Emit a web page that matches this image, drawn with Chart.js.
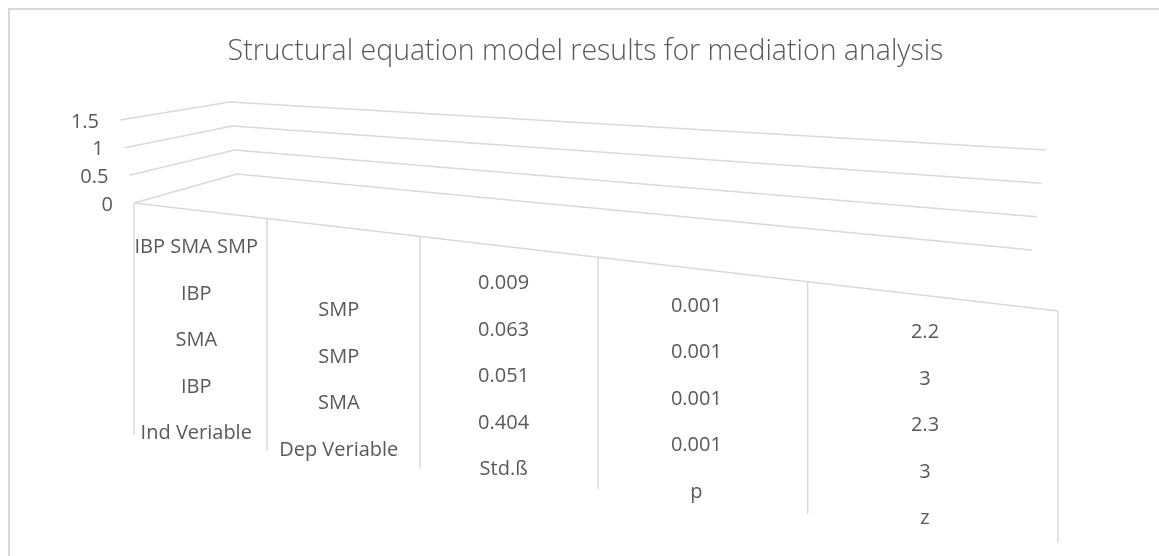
<!DOCTYPE html>
<html>
<head>
<meta charset="utf-8">
<script src="https://cdn.jsdelivr.net/npm/chart.js@4.4.1/dist/chart.umd.min.js"></script>
<style>
  html, body { margin: 0; padding: 0; background: #ffffff; overflow: hidden; }
  #wrap { width: 1159px; height: 556px; position: relative; }
</style>
</head>
<body>
<div id="wrap"><canvas id="c" width="1159" height="556"></canvas></div>
<script>
// ---------------- data ----------------
const chartTitle = "Structural equation model results for mediation analysis";
const columnHeaders = ["Ind Veriable", "Dep Veriable", "Std.ß", "p", "z"];
const indVariable = ["IBP SMA SMP", "IBP", "SMA", "IBP"];
const depVariable = ["", "SMP", "SMP", "SMA"];
const stdBeta = ["0.009", "0.063", "0.051", "0.404"];
const pValues = ["0.001", "0.001", "0.001", "0.001"];
const zValues = ["2.2", "3", "2.3", "3"];
const seriesValues = [0, 0, 0, 0, 0];
const yTicks = [0, 0.5, 1, 1.5];

// categories: each column of the table, header at the bottom
const categories = [indVariable, depVariable, stdBeta, pValues, zValues]
  .map((col, i) => [...col, columnHeaders[i]]);

// ---------------- styling / 3-D look ----------------
const TEXT = '#595959';
const LINE = '#d9d9d9';
const FONT = '"Open Sans", "Liberation Sans", sans-serif';
const look = {
  persp: -0.3274,     // perspective along the category (front) edge
  frontDrop: 108,     // vertical drop of the floor's front edge across the plot
  tickLen: 232,       // length of the category separators
  labelOffset: 37,    // first label line below the front edge
  lineGap: 46.5,      // label line spacing
  // back-wall geometry offsets (relative to chart area corners), at t=0 and t=1
  leftShift: -14,
  cornerX0: 103, cornerX1: 96, cornerY0: -29, cornerY1: -101,
  rightX0: -26, rightX1: -12, rightY0: 47, rightY1: -53
};

const perspectivePlugin = {
  id: 'perspective',
  beforeDraw(chart) {
    const ctx = chart.ctx;
    ctx.save();
    ctx.fillStyle = '#ffffff';
    ctx.fillRect(0, 0, chart.width, chart.height);
    ctx.strokeStyle = LINE;
    ctx.lineWidth = 2;
    ctx.beginPath();
    ctx.moveTo(9, chart.height);
    ctx.lineTo(9, 9);
    ctx.lineTo(chart.width, 9);
    ctx.stroke();
    ctx.restore();
  },
  beforeDatasetsDraw(chart) {
    const ctx = chart.ctx;
    const ca = chart.chartArea;
    const ys = chart.scales.y;
    const xs = chart.scales.x;
    const y0 = ys.getPixelForValue(ys.min);
    const span = y0 - ys.getPixelForValue(ys.max);
    const lerp = (a, b, t) => a + (b - a) * t;

    // map a flat category-scale pixel onto the slanted, perspective front edge
    const proj = (px) => {
      const u = (px - ca.left) / (ca.right - ca.left);
      const f = u * (1 + look.persp) / (1 + look.persp * u);
      return { x: ca.left + f * (ca.right - ca.left), y: y0 + f * look.frontDrop };
    };

    ctx.save();
    ctx.strokeStyle = LINE;
    ctx.lineWidth = 1.5;
    ctx.lineJoin = 'miter';

    // value gridlines on the side + back walls, with value labels
    ctx.font = '20px ' + FONT;
    ctx.fillStyle = TEXT;
    ctx.textAlign = 'right';
    ctx.textBaseline = 'middle';
    yTicks.forEach(v => {
      const py = ys.getPixelForValue(v);
      const t = (y0 - py) / span;
      const L = { x: ca.left + look.leftShift * t, y: py };
      const C = { x: ca.left + lerp(look.cornerX0, look.cornerX1, t), y: y0 + lerp(look.cornerY0, look.cornerY1, t) };
      const R = { x: ca.right + lerp(look.rightX0, look.rightX1, t), y: y0 + lerp(look.rightY0, look.rightY1, t) };
      ctx.beginPath();
      ctx.moveTo(L.x, L.y);
      ctx.lineTo(C.x, C.y);
      ctx.lineTo(R.x, R.y);
      ctx.stroke();
      ctx.fillText(String(v), L.x - 21, L.y + 2);
    });

    // floor front edge (category axis line)
    const a = proj(ca.left), b = proj(ca.right);
    ctx.beginPath();
    ctx.moveTo(a.x, a.y);
    ctx.lineTo(b.x, b.y);
    ctx.stroke();

    // category separators
    const n = categories.length;
    const half = (xs.getPixelForValue(1) - xs.getPixelForValue(0)) / 2;
    for (let i = 0; i <= n; i++) {
      const px = (i < n ? xs.getPixelForValue(i) - half : xs.getPixelForValue(n - 1) + half);
      const p = proj(px);
      ctx.beginPath();
      ctx.moveTo(p.x, p.y);
      ctx.lineTo(p.x, p.y + look.tickLen);
      ctx.stroke();
    }

    // category labels (multi-line)
    ctx.textAlign = 'center';
    categories.forEach((lines, i) => {
      const p = proj(xs.getPixelForValue(i));
      lines.forEach((txt, k) => {
        if (txt) ctx.fillText(txt, p.x - 2, p.y + look.labelOffset + k * look.lineGap);
      });
    });
    ctx.restore();
  }
};

new Chart(document.getElementById('c'), {
  type: 'bar',
  data: {
    labels: categories,
    datasets: [{ data: seriesValues, backgroundColor: '#4472c4', borderWidth: 0 }]
  },
  options: {
    responsive: false,
    animation: false,
    devicePixelRatio: 1,
    layout: { padding: { left: 113, right: 101, top: 0, bottom: 353 } },
    plugins: {
      legend: { display: false },
      tooltip: { enabled: false },
      title: {
        display: true,
        text: chartTitle,
        color: TEXT,
        font: { family: FONT, size: 28.5, weight: '300' },
        padding: { top: 35, bottom: 50.8 }
      }
    },
    scales: {
      x: { display: false },
      y: {
        min: 0, max: 1.5,
        ticks: { display: false, stepSize: 0.5 },
        grid: { display: false },
        border: { display: false },
        afterFit(scale) { scale.width = 21; }
      }
    }
  },
  plugins: [perspectivePlugin]
});
</script>
</body>
</html>
